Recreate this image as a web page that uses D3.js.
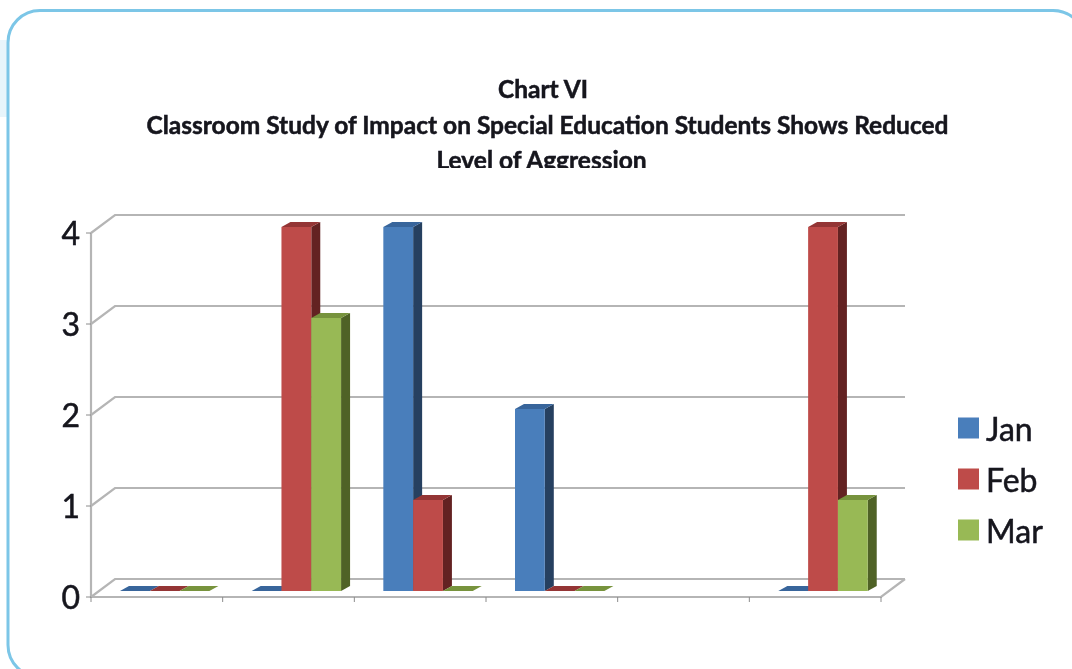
<!DOCTYPE html>
<html>
<head>
<meta charset="utf-8">
<script src="https://cdn.jsdelivr.net/npm/d3@7"></script>
<style>
  html, body { margin: 0; padding: 0; background: #fff; }
  svg { display: block; }
  text { font-family: Lato, "Open Sans", sans-serif; fill: #14141c; stroke: #14141c; stroke-width: 0.5px; }
</style>
</head>
<body>
<div id="chart"></div>
<script>
var categories = ["A", "B", "C", "D", "E", "F"];
var seriesNames = ["Jan", "Feb", "Mar"];
var jan = [0, 0, 4, 2, null, 0];
var feb = [0, 4, 1, 0, null, 4];
var mar = [0, 3, 0, 0, null, 1];
var yTicks = [0, 1, 2, 3, 4];
var titleLines = [
  "Chart VI",
  "Classroom Study of Impact on Special Education Students Shows Reduced",
  "Level of Aggression"
];

var svgWidth = 1072;
var svgHeight = 669;
var colors = {
  Jan: { front: "#4a7ebb", top: "#37659b", side: "#254061" },
  Feb: { front: "#be4b48", top: "#943634", side: "#632423" },
  Mar: { front: "#98b954", top: "#77933c", side: "#4f6228" }
};
var seriesValues = { Jan: jan, Feb: feb, Mar: mar };
var titleCenters = [543, 547.5, 541.5];

var svg = d3.select("#chart")
  .append("svg")
  .attr("width", svgWidth)
  .attr("height", svgHeight);

// the source is a soft, scanned picture
var defs = svg.append("defs");
defs.append("filter").attr("id", "soft")
  .append("feGaussianBlur").attr("stdDeviation", 0.7);
// the last title line is cut off just under its baseline
defs.append("clipPath").attr("id", "titleClip")
  .append("rect")
  .attr("x", 0).attr("y", 60)
  .attr("width", svgWidth).attr("height", 108);

// page tab and rounded panel
svg.append("rect")
  .attr("x", 0).attr("y", 40)
  .attr("width", 10).attr("height", 77)
  .attr("fill", "#e8f5fb");
svg.append("rect")
  .attr("x", 8).attr("y", 10.5)
  .attr("width", 1077).attr("height", 666.5)
  .attr("rx", 32)
  .attr("fill", "#fff")
  .attr("stroke", "#7cc6e7")
  .attr("stroke-width", 3);

var chartGroup = svg.append("g").attr("filter", "url(#soft)");

// scales
var x0 = d3.scaleBand().domain(categories).range([91, 881]);
var x1 = d3.scaleBand().domain(seriesNames).range([0, 89.4]);
var y = d3.scaleLinear().domain([0, 4]).range([597, 233]);

var backDx = 24, backDy = -18;   // wall depth
var barDx = 9, barDy = -5;       // depth of a bar
var barOffsetX = 29, barOffsetY = -6; // bars stand a bit inside the floor

var gridColor = "#b5b5b5";

// gridlines: the slanted bit then the back wall
chartGroup.selectAll(".grid")
  .data(yTicks)
  .enter()
  .append("path")
  .attr("class", "grid")
  .attr("fill", "none")
  .attr("stroke", gridColor)
  .attr("stroke-width", 2.2)
  .attr("d", function(d) {
    var p = d3.path();
    p.moveTo(91, y(d));
    p.lineTo(91 + backDx, y(d) + backDy);
    p.lineTo(881 + backDx, y(d) + backDy);
    return p.toString();
  });

// floor front edge and right edge, left axis
var axisPath = d3.path();
axisPath.moveTo(91, y(4));
axisPath.lineTo(91, y(0));
axisPath.lineTo(881, y(0));
axisPath.lineTo(881 + backDx, y(0) + backDy);
chartGroup.append("path")
  .attr("d", axisPath.toString())
  .attr("fill", "none")
  .attr("stroke", gridColor)
  .attr("stroke-width", 2.2);

// category ticks
var tickXs = categories.map(function(c) { return x0(c); }).concat([x0.range()[1]]);
chartGroup.selectAll(".xtick")
  .data(tickXs)
  .enter()
  .append("line")
  .attr("class", "xtick")
  .attr("x1", function(d) { return d; })
  .attr("x2", function(d) { return d; })
  .attr("y1", y(0))
  .attr("y2", y(0) + 5)
  .attr("stroke", "#8c8c8c")
  .attr("stroke-width", 1);

// y ticks and labels
chartGroup.selectAll(".ytick")
  .data(yTicks)
  .enter()
  .append("line")
  .attr("class", "ytick")
  .attr("x1", 86)
  .attr("x2", 91)
  .attr("y1", function(d) { return y(d); })
  .attr("y2", function(d) { return y(d); })
  .attr("stroke", "#8c8c8c")
  .attr("stroke-width", 1);

chartGroup.selectAll(".ylabel")
  .data(yTicks)
  .enter()
  .append("text")
  .attr("class", "ylabel")
  .attr("x", 80)
  .attr("y", function(d) { return y(d); })
  .attr("dy", "0.36em")
  .attr("text-anchor", "end")
  .style("font-size", "32px")
  .text(function(d) { return d; });

// bars, back to front in drawing order
var bars = [];
categories.forEach(function(c, i) {
  seriesNames.forEach(function(s) {
    if (seriesValues[s][i] !== null) {
      bars.push({ category: c, series: s, value: seriesValues[s][i] });
    }
  });
});

var barGroups = chartGroup.selectAll(".bar")
  .data(bars)
  .enter()
  .append("g")
  .attr("class", "bar");

function poly(points) {
  return points.map(function(p) { return p.join(","); }).join(" ");
}

function barBox(d) {
  var left = x0(d.category) + barOffsetX + x1(d.series);
  return {
    left: left,
    right: left + x1.bandwidth(),
    top: y(d.value) + barOffsetY,
    bottom: y(0) + barOffsetY
  };
}

barGroups.append("polygon")
  .attr("fill", function(d) { return colors[d.series].side; })
  .attr("points", function(d) {
    var b = barBox(d);
    return poly([[b.right, b.top], [b.right + barDx, b.top + barDy],
      [b.right + barDx, b.bottom + barDy], [b.right, b.bottom]]);
  });

barGroups.append("polygon")
  .attr("fill", function(d) { return colors[d.series].top; })
  .attr("points", function(d) {
    var b = barBox(d);
    return poly([[b.left, b.top], [b.left + barDx, b.top + barDy],
      [b.right + barDx, b.top + barDy], [b.right, b.top]]);
  });

barGroups.append("rect")
  .attr("fill", function(d) { return colors[d.series].front; })
  .attr("x", function(d) { return barBox(d).left; })
  .attr("y", function(d) { return barBox(d).top; })
  .attr("width", x1.bandwidth())
  .attr("height", function(d) { var b = barBox(d); return b.bottom - b.top; });

// title
svg.append("g")
  .attr("clip-path", "url(#titleClip)")
  .append("g")
  .attr("filter", "url(#soft)")
  .selectAll(".title")
  .data(titleLines)
  .enter()
  .append("text")
  .attr("class", "title")
  .attr("x", function(d, i) { return titleCenters[i]; })
  .attr("y", function(d, i) { return 98 + i * 35.5; })
  .attr("text-anchor", "middle")
  .style("font-size", "24.5px")
  .style("font-weight", "bold")
  .text(function(d) { return d; });

// legend
var legendY = d3.scalePoint().domain(seriesNames).range([428, 530]);
var legend = chartGroup.selectAll(".legend")
  .data(seriesNames)
  .enter()
  .append("g")
  .attr("class", "legend");

legend.append("rect")
  .attr("x", 958)
  .attr("y", function(d) { return legendY(d) - 10.5; })
  .attr("width", 21)
  .attr("height", 21)
  .attr("fill", function(d) { return colors[d].front; });

legend.append("text")
  .attr("x", 986)
  .attr("y", function(d) { return legendY(d) + 1; })
  .attr("dy", "0.36em")
  .style("font-size", "32px")
  .text(function(d) { return d; });
</script>
</body>
</html>
